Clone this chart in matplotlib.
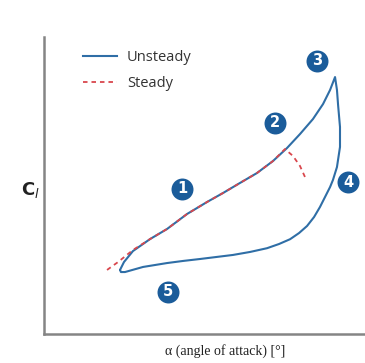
import numpy as np
import matplotlib
matplotlib.use("Agg")
import matplotlib.pyplot as plt
from matplotlib.lines import Line2D

# dynamic stall hysteresis loop (unsteady) vs static lift curve (steady)
alpha_unsteady = [4.75, 5.00, 5.56, 6.63, 7.69, 8.94, 10.19, 11.19, 12.25, 13.31,
                  14.31, 15.19, 16.00, 16.81, 17.44, 17.88, 18.19,
                  18.31, 18.38, 18.50, 18.50, 18.31, 18.06, 17.88, 17.25, 16.88,
                  16.44, 15.94, 15.38, 14.69, 13.94, 12.88, 11.81, 9.75, 8.69,
                  7.69, 6.19, 5.06, 4.81, 4.75]
cl_unsteady = [0.427, 0.48, 0.553, 0.633, 0.70, 0.80, 0.88, 0.94, 1.007, 1.073,
               1.153, 1.24, 1.333, 1.433, 1.533, 1.627, 1.713,
               1.627, 1.527, 1.38, 1.247, 1.113, 1.027, 0.98, 0.847, 0.78,
               0.72, 0.673, 0.632, 0.60, 0.572, 0.547, 0.527, 0.50, 0.487,
               0.473, 0.447, 0.413, 0.413, 0.427]

alpha_steady = [3.94, 4.63, 5.56, 6.63, 7.69, 8.94, 10.19, 11.19, 12.25, 13.31,
                14.31, 15.06, 15.56, 16.00, 16.31]
cl_steady = [0.427, 0.48, 0.56, 0.633, 0.70, 0.80, 0.88, 0.94, 1.007, 1.073,
             1.153, 1.233, 1.187, 1.12, 1.047]

# numbered stages of the cycle
stage_labels = ["1", "2", "3", "4", "5"]
stage_alpha = [8.63, 14.44, 17.06, 19.00, 7.75]
stage_cl = [0.967, 1.407, 1.82, 1.013, 0.28]

W, H = 365, 363
fig = plt.figure(figsize=(W / 100, H / 100), dpi=100)
ax = fig.add_axes([44 / W, (H - 334) / H, (W - 44) / W, (334 - 37) / H])
ax.set_xlim(0, 321 / 16)
ax.set_ylim(0, 297 / 150)

blue = "#2f6ea6"
red = "#d9474d"
ax.plot(alpha_unsteady, cl_unsteady, color=blue, lw=1.5,
        solid_joinstyle="round", solid_capstyle="round")
ax.plot(alpha_steady, cl_steady, color=red, lw=1.3, dashes=(2.5, 2.2))

ax.scatter(stage_alpha, stage_cl, s=250, color="#1b5c9a", zorder=3, linewidths=0)
for lab, a, c in zip(stage_labels, stage_alpha, stage_cl):
    ax.text(a, c, lab, color="white", fontsize=10.5, fontweight="bold",
            ha="center", va="center", zorder=4)

for side in ["top", "right"]:
    ax.spines[side].set_visible(False)
for side in ["left", "bottom"]:
    ax.spines[side].set_color("#858585")
    ax.spines[side].set_linewidth(1.8)
ax.set_xticks([])
ax.set_yticks([])

handles = [Line2D([], [], color=blue, lw=1.5),
           Line2D([], [], color=red, lw=1.3, dashes=(2.5, 2.2))]
ax.legend(handles, ["Unsteady", "Steady"], loc="upper left",
          bbox_to_anchor=(76 / W, 1 - 43 / H), bbox_transform=fig.transFigure,
          frameon=False, handlelength=2.3, handletextpad=0.7,
          labelspacing=0.75, borderpad=0, labelcolor="#333333",
          prop={"family": "Open Sans", "size": 10.5})

fig.text(30 / W, 1 - 190 / H, r"$\mathbf{C}_{\mathit{l}}$", fontsize=13,
         color="#222222", ha="center", va="center")
fig.text(225 / W, 1 - 351 / H, "\u03b1 (angle of attack) [\u00b0]",
         family="Liberation Serif", fontsize=10, color="#222222",
         ha="center", va="center")

fig.savefig("out.png", dpi=100)
